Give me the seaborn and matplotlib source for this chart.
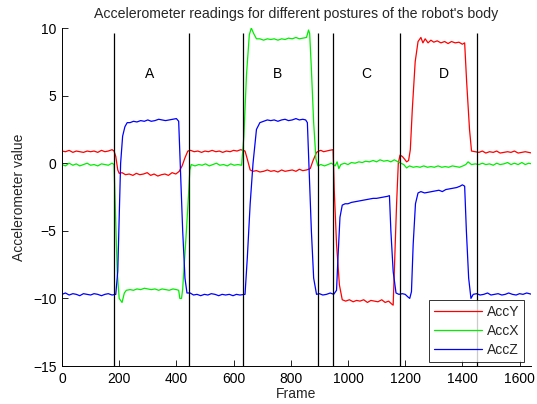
import numpy as np
import pandas as pd
import matplotlib
matplotlib.use("Agg")
import matplotlib.pyplot as plt
import seaborn as sns

# ---------------- data ----------------
accy_frames = [0,12,25,38,50,62,75,88,100,112,125,138,150,162,175,182,
               188,195,200,
               210,222,235,248,260,272,285,298,310,322,335,348,360,372,385,398,410,
               420,430,440,
               450,462,475,488,500,512,525,538,550,562,575,588,600,612,625,640,
               648,658,668,
               680,692,705,718,730,742,755,768,780,792,805,818,830,842,855,868,
               878,890,898,
               905,915,925,935,948,
               952,960,970,980,
               992,1005,1018,1030,1042,1055,1068,1080,1092,1105,1118,1130,1142,1152,1158,
               1162,1170,1176,1182,
               1190,1198,1205,1212,1218,
               1225,1235,1245,
               1255,1262,1270,1280,1290,1300,1312,1325,1338,1350,1362,1375,1388,1400,1408,
               1415,1425,1432,
               1445,1458,1470,1482,1495,1508,1520,1532,1545,1558,1570,1582,1595,1608,1620,1632,1643]
accy_values = [0.9,0.85,0.95,0.8,0.9,0.85,0.8,0.9,0.85,0.9,0.8,0.95,0.85,0.9,1.0,0.9,
               0.5,-0.5,-0.75,
               -0.7,-0.85,-0.8,-0.9,-0.75,-0.85,-0.8,-0.7,-0.9,-0.8,-0.95,-0.85,-0.8,-0.9,-0.7,-0.8,-0.6,
               -0.2,0.4,0.9,
               0.95,0.85,0.9,0.8,0.9,0.85,0.95,0.85,0.9,0.8,0.9,0.85,0.95,0.9,1.0,0.9,
               0.3,-0.5,-0.6,
               -0.55,-0.65,-0.6,-0.5,-0.6,-0.55,-0.65,-0.5,-0.6,-0.55,-0.5,-0.6,-0.45,-0.55,-0.5,-0.4,
               0.2,0.8,0.9,
               0.95,0.85,0.9,0.95,1.0,
               -2.0,-6.0,-9.0,-10.1,
               -10.2,-10.1,-10.25,-10.15,-10.2,-10.1,-10.3,-10.15,-10.2,-10.25,-10.1,-10.3,-10.2,-10.4,-10.5,
               -8.0,-3.0,0.0,0.6,
               0.5,0.3,0.1,0.2,1.0,
               4.0,7.5,9.0,
               9.3,8.9,9.2,8.9,9.1,8.95,9.05,8.9,9.0,8.85,9.0,8.9,8.95,8.8,8.9,
               6.0,2.5,0.9,
               0.85,0.8,0.9,0.75,0.85,0.8,0.9,0.75,0.8,0.85,0.8,0.9,0.75,0.8,0.85,0.8,0.75]

accx_frames = [0,12,25,38,50,62,75,88,100,112,125,138,150,162,175,182,
               186,193,200,210,218,225,
               238,250,262,275,288,300,312,325,338,350,362,375,388,400,408,412,418,422,
               435,442,447,452,
               465,478,490,502,515,528,540,552,565,578,590,602,615,628,
               636,645,655,662,670,680,
               692,705,718,730,742,755,768,780,792,805,818,830,842,855,862,866,
               872,880,888,895,
               905,918,930,942,955,962,968,975,988,1000,1012,1025,1038,1050,1062,1075,1088,
               1100,1112,1125,1138,1150,1162,1175,1185,
               1195,1205,1215,1228,1240,1252,1265,1278,1290,1302,1315,1328,1340,1352,1365,
               1378,1390,1402,1412,1420,1432,
               1445,1458,1470,1482,1495,1508,1520,1532,1545,1558,1570,1582,1595,1608,1620,1632,1643]
accx_values = [-0.1,-0.2,0.0,-0.15,-0.05,-0.2,-0.1,0.0,-0.15,-0.1,-0.2,-0.05,-0.1,-0.15,0.0,-0.1,
               -3.0,-8.0,-10.0,-10.3,-9.6,-9.4,
               -9.35,-9.4,-9.3,-9.35,-9.25,-9.3,-9.35,-9.3,-9.4,-9.3,-9.35,-9.4,-9.3,-9.35,-9.4,-10.0,-10.0,-9.3,
               -5.0,-2.5,-0.5,-0.1,
               -0.2,-0.1,-0.15,-0.05,-0.2,-0.1,0.0,-0.15,-0.1,-0.2,-0.05,-0.15,-0.1,-0.15,
               2.0,6.5,9.5,10.0,9.6,9.2,
               9.2,9.1,9.2,9.15,9.2,9.1,9.2,9.15,9.25,9.2,9.3,9.2,9.25,9.3,9.85,9.6,
               7.0,3.0,0.3,-0.2,
               -0.1,-0.2,-0.1,0.0,-0.2,0.1,-0.4,-0.1,0.0,-0.1,0.05,0.0,0.1,0.05,0.15,0.1,0.2,
               0.1,0.25,0.15,0.2,0.1,0.25,0.1,0.0,
               -0.1,-0.35,-0.2,-0.3,-0.25,-0.3,-0.2,-0.3,-0.25,-0.3,-0.2,-0.3,-0.25,-0.3,-0.2,
               -0.25,-0.3,-0.2,-0.1,0.1,-0.1,
               -0.05,-0.1,0.0,-0.1,-0.05,-0.15,0.0,-0.1,-0.05,0.05,-0.1,0.0,-0.1,0.05,-0.1,0.0,-0.05]

accz_frames = [0,12,25,38,50,62,75,88,100,112,125,138,150,162,175,188,
               195,200,205,212,220,228,
               238,250,262,275,288,300,312,325,338,350,362,375,388,400,408,
               415,422,430,437,
               448,460,472,485,498,510,522,535,548,560,572,585,598,610,622,640,
               648,658,668,680,692,
               705,718,730,742,755,768,780,792,805,818,830,842,852,858,
               865,872,880,890,
               900,912,925,938,950,960,
               965,972,980,990,
               1000,1012,1025,1038,1050,1062,1075,1088,1100,1112,1125,1138,1145,
               1150,1158,1168,
               1178,1190,1200,1210,1216,1222,
               1228,1236,1245,
               1255,1268,1280,1292,1305,1318,1330,1342,1355,1368,1380,1392,1400,1408,
               1414,1422,1430,1438,
               1450,1462,1475,1488,1500,1512,1525,1538,1550,1562,1575,1588,1600,1612,1625,1643]
accz_values = [-9.7,-9.6,-9.75,-9.65,-9.7,-9.8,-9.65,-9.7,-9.75,-9.65,-9.7,-9.8,-9.7,-9.65,-9.75,-9.7,
               -8.0,-4.0,0.0,2.0,2.7,3.0,
               3.0,3.1,3.05,3.15,3.1,3.2,3.1,3.15,3.25,3.2,3.15,3.2,3.25,3.3,3.1,
               -1.0,-5.0,-8.5,-9.6,
               -9.6,-9.75,-9.7,-9.8,-9.7,-9.75,-9.65,-9.7,-9.8,-9.7,-9.75,-9.7,-9.8,-9.7,-9.75,-9.7,
               -7.0,-3.0,0.0,2.5,3.0,
               3.1,3.2,3.15,3.2,3.1,3.2,3.25,3.15,3.2,3.3,3.2,3.25,3.2,3.0,
               -1.0,-5.0,-8.5,-9.7,
               -9.65,-9.75,-9.7,-9.6,-9.7,-9.4,
               -7.0,-4.0,-3.1,-3.0,
               -3.0,-2.9,-2.85,-2.8,-2.75,-2.7,-2.65,-2.6,-2.6,-2.55,-2.5,-2.45,-2.4,
               -5.0,-8.0,-9.6,
               -9.7,-9.65,-9.7,-9.9,-10.0,-9.5,
               -6.0,-3.0,-2.2,
               -2.1,-2.2,-2.15,-2.1,-2.05,-2.0,-2.1,-1.95,-1.9,-1.85,-1.8,-1.7,-1.6,-1.7,
               -5.0,-8.5,-10.0,-9.7,
               -9.65,-9.75,-9.7,-9.6,-9.75,-9.7,-9.65,-9.75,-9.7,-9.6,-9.7,-9.75,-9.65,-9.7,-9.6,-9.7]

series_names = ["AccY", "AccX", "AccZ"]
series_colors = ["#ff0000", "#00ee00", "#0000ff"]

boundaries = [182, 444, 633, 895, 948, 1182, 1451]
posture_labels = ["A", "B", "C", "D"]
posture_x = [308, 755, 1063, 1336]
posture_y = 6.6

x_ticks = [0, 200, 400, 600, 800, 1000, 1200, 1400, 1600]
y_ticks = [-15, -10, -5, 0, 5, 10]

# ---------------- build long-form table ----------------
frames = []
for name, fr, va in [("AccY", accy_frames, accy_values),
                     ("AccX", accx_frames, accx_values),
                     ("AccZ", accz_frames, accz_values)]:
    frames.append(pd.DataFrame({"Frame": fr, "value": va, "series": name}))
df = pd.concat(frames, ignore_index=True)

sns.set_theme(style="white")
plt.rcParams["font.family"] = ["Liberation Sans", "DejaVu Sans"]

fig = plt.figure(figsize=(5.37, 4.04), dpi=100)
ax = fig.add_axes([62/537, 38/404, 469/537, 338/404])

sns.lineplot(data=df, x="Frame", y="value", hue="series", hue_order=series_names,
             palette=dict(zip(series_names, series_colors)), estimator=None,
             sort=False, linewidth=0.9, ax=ax)

ax.vlines(boundaries, -15, 9.6, color="black", linewidth=0.9, zorder=3)
for lab, xp in zip(posture_labels, posture_x):
    ax.text(xp, posture_y, lab, ha="center", va="center", fontsize=10, color="black")

ax.set_xlim(0, 1640)
ax.set_ylim(-15, 10)
ax.set_xticks(x_ticks)
ax.set_yticks(y_ticks)
ax.tick_params(direction="in", length=4, width=0.6, labelsize=10, colors="black",
               top=False, right=False, bottom=True, left=True, pad=4)
ax.spines["top"].set_visible(False)
ax.spines["right"].set_visible(False)
for sp in ("left", "bottom"):
    ax.spines[sp].set_color("black")
    ax.spines[sp].set_linewidth(0.7)

ax.set_title("Accelerometer readings for different postures of the robot's body",
             fontsize=10.2, pad=7.5)
ax.set_xlabel("Frame", fontsize=10, labelpad=1)
ax.set_ylabel("Accelerometer value", fontsize=10, labelpad=5)

leg = ax.legend(loc="lower right", fontsize=10, frameon=True, fancybox=False,
                edgecolor="black", handlelength=3.4, handletextpad=0.4,
                borderaxespad=0.3, labelspacing=0.35, borderpad=0.35,
                bbox_to_anchor=(0.995, 0.0))
leg.get_frame().set_linewidth(0.7)
for line in leg.get_lines():
    line.set_linewidth(0.9)

fig.savefig("out.png", dpi=100)
